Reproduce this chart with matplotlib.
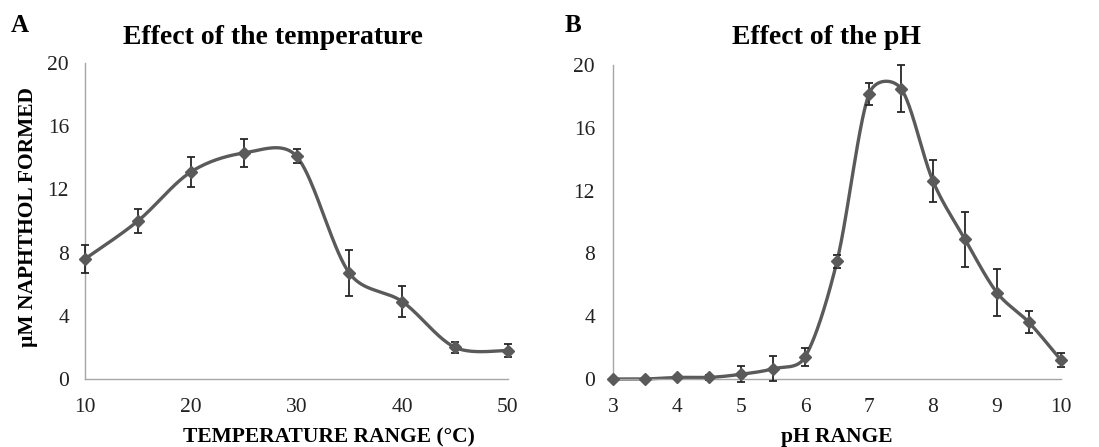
import numpy as np
import matplotlib
matplotlib.use("Agg")
import matplotlib.pyplot as plt

temp_x = [10, 15, 20, 25, 30, 35, 40, 45, 50]
temp_y = [7.6, 10.0, 13.1, 14.3, 14.1, 6.7, 4.9, 2.0, 1.8]
temp_err = [0.9, 0.75, 0.95, 0.9, 0.45, 1.45, 1.0, 0.35, 0.4]

ph_x = [3, 3.5, 4, 4.5, 5, 5.5, 6, 6.5, 7, 7.5, 8, 8.5, 9, 9.5, 10]
ph_y = [0.0, 0.0, 0.1, 0.1, 0.3, 0.65, 1.4, 7.5, 18.15, 18.5, 12.6, 8.9, 5.5, 3.6, 1.2]
ph_err = [0.0, 0.0, 0.1, 0.15, 0.5, 0.8, 0.6, 0.4, 0.7, 1.5, 1.35, 1.75, 1.5, 0.7, 0.45]

temp_ticks = [10, 20, 30, 40, 50]
ph_ticks = [3, 4, 5, 6, 7, 8, 9, 10]
y_ticks = [0, 4, 8, 12, 16, 20]

LINE = "#5a5a5a"
SPINE = "#a6a6a6"
SERIF = ["Liberation Serif", "DejaVu Serif"]
plt.rcParams["font.family"] = SERIF


def smooth(ax, x, y, n=40):
    """Bezier smoothing (spreadsheet style) computed in display space."""
    data = np.column_stack([np.asarray(x, float), np.asarray(y, float)])
    P = ax.transData.transform(data)
    m = len(P)
    out = []
    for i in range(m - 1):
        p0 = P[i - 1] if i > 0 else P[i]
        p1 = P[i]
        p2 = P[i + 1]
        p3 = P[i + 2] if i + 2 < m else P[i + 1]
        d01 = np.hypot(*(p1 - p0))
        d12 = np.hypot(*(p2 - p1))
        d23 = np.hypot(*(p3 - p2))
        f1 = (min(1.0, 2 * d12 / (d01 + d12)) ** 0.5) / 6.0 if d01 > 0 else 1 / 6.0
        f2 = (min(1.0, 2 * d12 / (d12 + d23)) ** 0.5) / 6.0 if d23 > 0 else 1 / 6.0
        c1 = p1 + (p2 - p0) * f1
        c2 = p2 - (p3 - p1) * f2
        t = np.linspace(0, 1, n)[:, None]
        seg = ((1 - t) ** 3) * p1 + 3 * ((1 - t) ** 2) * t * c1 + 3 * (1 - t) * t ** 2 * c2 + t ** 3 * p2
        out.append(seg if i == 0 else seg[1:])
    s = np.vstack(out)
    d = ax.transData.inverted().transform(s)
    return d[:, 0], d[:, 1]


W, H = 1099, 447
fig = plt.figure(figsize=(W / 100, H / 100), dpi=100)


def panel(rect, x, y, err, xticks, xlim, title, title_x, xlabel, xlabel_x, letter, letter_x,
          ypad, ylabel=None):
    l, t, r, b = rect
    ax = fig.add_axes([l / W, 1 - b / H, (r - l) / W, (b - t) / H])
    ax.set_xlim(*xlim)
    ax.set_ylim(0, 20)
    sx, sy = smooth(ax, x, y)
    ax.plot(sx, sy, color=LINE, lw=2.4, zorder=2, clip_on=False, solid_capstyle="round")
    ax.errorbar(x, y, yerr=err, fmt="none", ecolor="#262626", elinewidth=1.3,
                capsize=3, capthick=1.3, zorder=3, clip_on=False)
    ax.plot(x, y, linestyle="none", marker="D", ms=6, color=LINE, zorder=4, clip_on=False)
    ax.set_xticks(xticks)
    ax.set_yticks(y_ticks)
    for s in ["top", "right"]:
        ax.spines[s].set_visible(False)
    for s in ["left", "bottom"]:
        ax.spines[s].set_color(SPINE)
        ax.spines[s].set_linewidth(1.0)
    ax.tick_params(axis="both", length=0, labelsize=15.5, colors="#222222")
    ax.tick_params(axis="y", pad=ypad)
    ax.tick_params(axis="x", pad=13.5)
    fig.text(title_x / W, 1 - 38 / H, title, ha="center", va="center",
             fontsize=20, fontweight="bold")
    fig.text(xlabel_x / W, 1 - 437 / H, xlabel, ha="center", va="center",
             fontsize=15.5, fontweight="bold")
    fig.text(letter_x / W, 1 - 25 / H, letter, ha="left", va="center",
             fontsize=18, fontweight="bold")
    if ylabel:
        fig.text(28 / W, 1 - 217 / H, ylabel, ha="center", va="center",
                 rotation=90, fontsize=15.5, fontweight="bold")
    return ax


panel((85, 63, 508, 379), temp_x, temp_y, temp_err, temp_ticks, (10, 50),
      "Effect of the temperature", 273, "TEMPERATURE RANGE (°C)", 329, "A", 11,
      ypad=11.5, ylabel="µM NAPHTHOL FORMED")
panel((613, 65, 1061, 379), ph_x, ph_y, ph_err, ph_ticks, (3, 10),
      "Effect of the pH", 826, "pH RANGE", 837, "B", 565, ypad=13)

fig.savefig("out.png", dpi=100)
